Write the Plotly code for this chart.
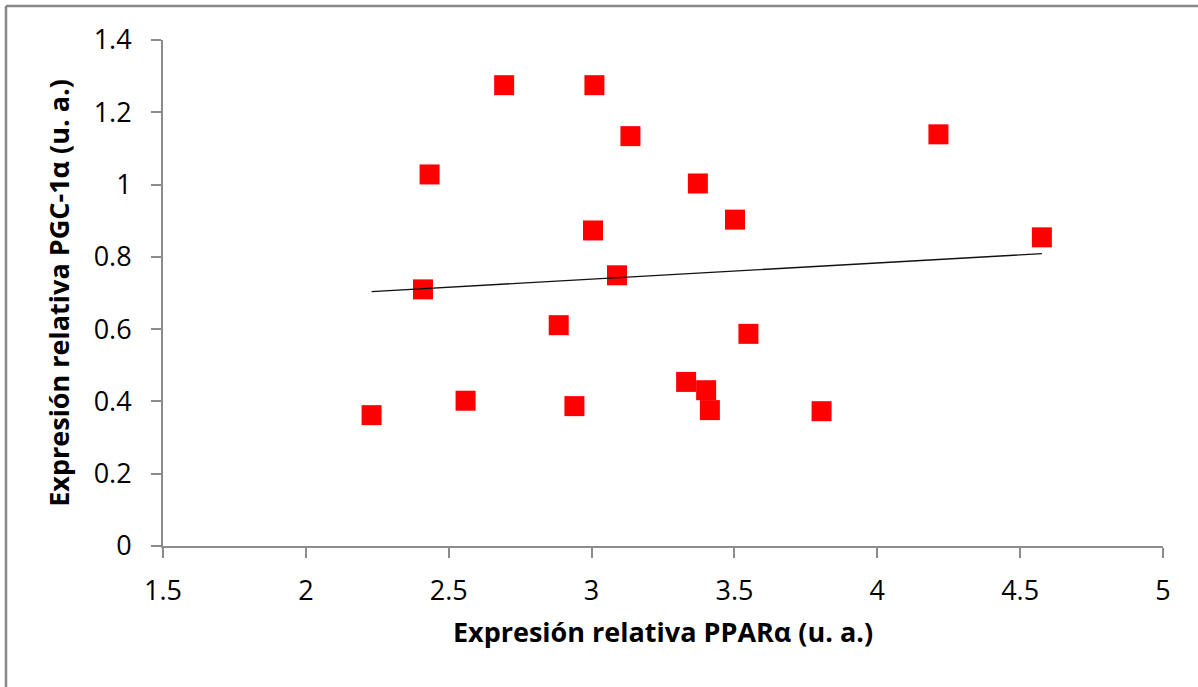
import numpy as np
import plotly.graph_objects as go

# Data
ppar_alpha = [3.010, 3.136, 4.214, 3.372, 3.502, 3.005, 4.576, 3.089, 2.885, 3.549,
              2.694, 2.433, 2.410, 2.230, 2.559, 2.940, 3.331, 3.401, 3.414, 3.805]
pgc1_alpha = [1.275, 1.134, 1.139, 1.003, 0.903, 0.873, 0.854, 0.749, 0.611, 0.587,
              1.275, 1.028, 0.710, 0.362, 0.402, 0.387, 0.454, 0.431, 0.376, 0.373]

x_ticks = [1.5, 2, 2.5, 3, 3.5, 4, 4.5, 5]
y_ticks = [0, 0.2, 0.4, 0.6, 0.8, 1, 1.2, 1.4]
x_tick_text = ["1.5", "2", "2.5", "3", "3.5", "4", "4.5", "5"]
y_tick_text = ["0", "0.2", "0.4", "0.6", "0.8", "1", "1.2", "1.4"]

x_title = "Expresión relativa PPARα (u. a.)"
y_title = "Expresión relativa PGC-1α (u. a.)"

# Linear trendline (least squares), spanning the data range
slope, intercept = np.polyfit(ppar_alpha, pgc1_alpha, 1)
trend_x = [min(ppar_alpha), max(ppar_alpha)]
trend_y = [slope * v + intercept for v in trend_x]

FONT = "Open Sans"
AXIS_COLOR = "#8c8c8c"

fig = go.Figure()
fig.add_trace(go.Scatter(
    x=ppar_alpha, y=pgc1_alpha, mode="markers",
    marker=dict(symbol="square", size=20, color="#ff0000",
                line=dict(width=0)),
    showlegend=False, hoverinfo="x+y",
))
fig.add_trace(go.Scatter(
    x=trend_x, y=trend_y, mode="lines",
    line=dict(color="#111111", width=1.4),
    showlegend=False, hoverinfo="skip",
))

fig.update_layout(
    width=1198, height=687,
    margin=dict(l=163, r=35, t=40, b=141, autoexpand=False),
    paper_bgcolor="white", plot_bgcolor="white",
    font=dict(family=FONT, color="#000000"),
    xaxis=dict(
        range=[1.5, 5], tickvals=x_ticks, ticktext=x_tick_text,
        showgrid=False, zeroline=False,
        showline=True, linecolor=AXIS_COLOR, linewidth=2,
        ticks="outside", ticklen=10, tickwidth=2, tickcolor=AXIS_COLOR,
        ticklabelstandoff=10,
        tickfont=dict(size=27, family=FONT, color="#000000"),
        title=dict(text=x_title, standoff=16,
                   font=dict(size=27, family=FONT, color="#000000", weight="bold")),
    ),
    yaxis=dict(
        range=[0, 1.4], tickvals=y_ticks, ticktext=y_tick_text,
        showgrid=False, zeroline=False,
        showline=True, linecolor=AXIS_COLOR, linewidth=2,
        ticks="outside", ticklen=10, tickwidth=2, tickcolor=AXIS_COLOR,
        ticklabelstandoff=14,
        tickfont=dict(size=27, family=FONT, color="#000000"),
        title=dict(text=y_title, standoff=16,
                   font=dict(size=27, family=FONT, color="#000000", weight="bold")),
    ),
    shapes=[
        dict(type="line", xref="paper", yref="paper",
             x0=-0.157, x1=1.04, y0=1.067, y1=1.067,
             line=dict(color="#888888", width=2.5)),
        dict(type="line", xref="paper", yref="paper",
             x0=-0.157, x1=-0.157, y0=1.067, y1=-0.29,
             line=dict(color="#888888", width=2.5)),
    ],
)

fig.write_html("out.html", config={"displayModeBar": False},
               post_script="document.body.style.margin='0';")
